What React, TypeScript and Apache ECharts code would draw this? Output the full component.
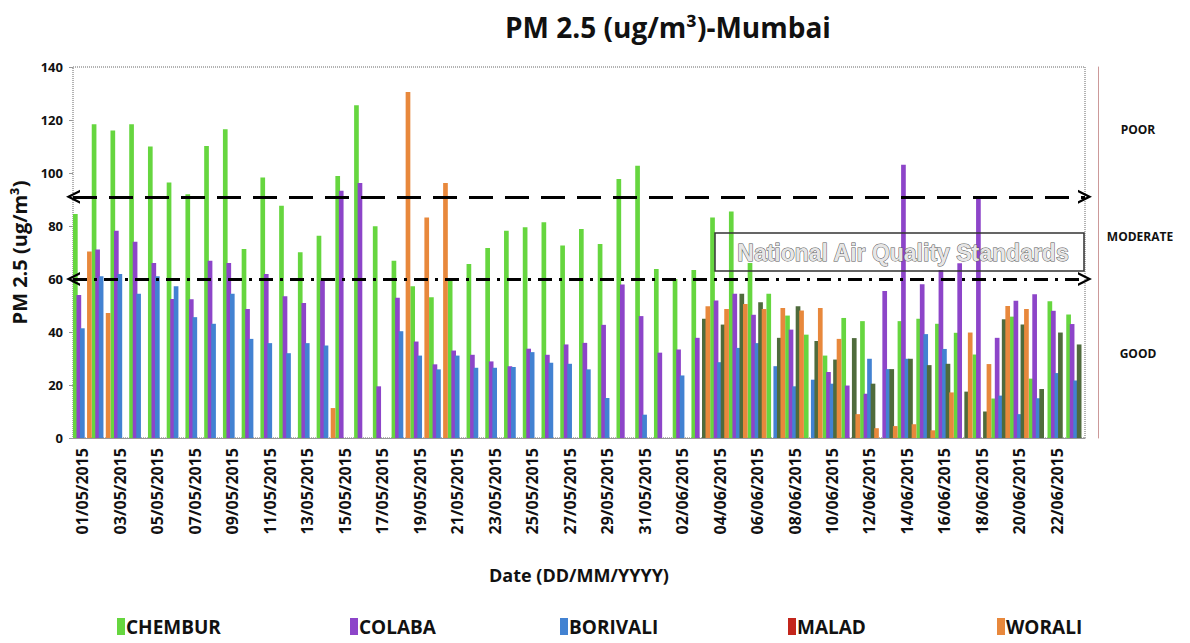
import React, { useEffect, useRef } from "react";
import * as echarts from "echarts";

const dates = [
  "01/05/2015","02/05/2015","03/05/2015","04/05/2015","05/05/2015","06/05/2015","07/05/2015","08/05/2015","09/05/2015","10/05/2015",
  "11/05/2015","12/05/2015","13/05/2015","14/05/2015","15/05/2015","16/05/2015","17/05/2015","18/05/2015","19/05/2015","20/05/2015",
  "21/05/2015","22/05/2015","23/05/2015","24/05/2015","25/05/2015","26/05/2015","27/05/2015","28/05/2015","29/05/2015","30/05/2015",
  "31/05/2015","01/06/2015","02/06/2015","03/06/2015","04/06/2015","05/06/2015","06/06/2015","07/06/2015","08/06/2015","09/06/2015",
  "10/06/2015","11/06/2015","12/06/2015","13/06/2015","14/06/2015","15/06/2015","16/06/2015","17/06/2015","18/06/2015","19/06/2015",
  "20/06/2015","21/06/2015","22/06/2015","23/06/2015",
];

const chembur = [84.5,118.4,116,118.4,110,96.4,92,110.2,116.5,71.3,98.3,87.6,70.1,76.3,98.9,125.6,79.9,66.9,57.3,53.1,60,65.7,71.7,78.2,79.5,81.4,72.6,78.9,73.2,97.7,102.7,63.8,60,63.4,83.2,85.5,66,54.4,46.2,39,31.1,45.3,44.1,null,44.1,45,43.1,39.7,31.5,14.9,45.8,22.4,51.6,46.6];
const colaba = [54,71.1,78.2,74.1,66,52.5,52.4,66.9,66,48.7,61.9,53.5,50.9,59.4,93.3,96.2,19.5,52.9,36.4,27.8,33,31.4,28.9,27.1,33.7,31.4,35.3,35.9,42.7,57.9,46,32.2,33.4,37.8,51.9,54.4,46.5,null,40.9,null,24.9,19.8,16.7,55.5,103.1,58,63.4,65.9,91,37.8,51.8,54.2,48,43];
const borivali = [41.4,61,61.9,54.4,61,57.3,45.6,43.1,54.4,37.4,35.8,32,35.8,34.9,null,null,null,40.3,31.1,25.9,31.1,26.5,26.5,26.8,32.4,28.4,28,25.9,15.1,null,8.8,null,23.6,null,28.6,34,35.8,27.1,19.5,22,20.5,null,29.9,26,29.9,39.2,33.6,null,null,16,9,15,24.5,21.7];
const malad = [null,null,null,null,null,null,null,null,null,null,null,null,null,null,null,null,null,null,null,null,null,null,null,null,null,null,null,null,null,null,null,null,null,45,42.8,54.4,51.2,37.8,49.7,36.6,29.6,37.7,20.5,26,29.9,27.5,28,17.5,10,44.8,42.8,18.5,39.8,35.3];
const worali = [70.4,47.2,null,null,null,null,null,null,null,null,null,null,null,11.3,null,null,null,130.6,83.2,96.2,null,null,null,null,null,null,null,null,null,null,null,null,null,49.7,48.7,50.6,48.7,49.1,48.1,49.1,37.4,9,3.7,4.5,5.2,2.9,17.2,39.8,27.9,49.8,48.7,null,null,null];

const seriesNames = ["CHEMBUR", "COLABA", "BORIVALI", "MALAD", "WORALI"];
const barColors = ["#66d63f", "#8d45c9", "#4282d2", "#4f6b3c", "#e8883c"];
const legendColors = ["#66d63f", "#8d45c9", "#4282d2", "#c3261c", "#e8883c"];
const legendLefts = [112, 345, 555, 783, 992];

const poorLimit = 91;
const goodLimit = 60;

const FONT = '"Open Sans", "Liberation Sans", sans-serif';

export default function App() {
  const ref = useRef<HTMLDivElement>(null);
  useEffect(() => {
    if (!ref.current) return;
    const chart = echarts.init(ref.current, undefined, { renderer: "svg" });
    const values = [chembur, colaba, borivali, malad, worali];
    const chevron = "path://M0,10 L5,0 L10,10 L8.2,10 L5,3.6 L1.8,10 Z";
    const series: any[] = values.map((d, i) => ({
      name: seriesNames[i],
      type: "bar",
      data: d,
      barCategoryGap: "0%",
      barGap: "-25%",
      itemStyle: { color: barColors[i] },
    }));
    series[0].markLine = {
      silent: true,
      symbol: [chevron, chevron],
      symbolSize: [14, 14],
      label: { show: false },
      data: [
        { yAxis: poorLimit, lineStyle: { color: "#000", width: 3, type: [24, 12] } },
        { yAxis: goodLimit, lineStyle: { color: "#000", width: 3, type: [14, 7, 3, 7] } },
      ],
    };
    chart.setOption({
      animation: false,
      backgroundColor: "#fff",
      title: {
        text: "PM 2.5 (ug/m³)-Mumbai",
        left: 500,
        top: 8,
        textStyle: { fontFamily: FONT, fontSize: 28, fontWeight: "bold", color: "#111" },
      },
      legend: seriesNames.map((n, i) => ({
        data: [{ name: n, itemStyle: { color: legendColors[i] } }],
        left: legendLefts[i],
        top: 612,
        itemWidth: 8,
        itemHeight: 17,
        itemGap: 2,
        icon: "rect",
        textStyle: { fontFamily: FONT, fontSize: 19, fontWeight: "bold", color: "#111", padding: [0, 0, 0, -4] },
      })),
      grid: {
        left: 73,
        right: 105,
        top: 67,
        bottom: 205,
        show: true,
        borderColor: "#666",
        borderWidth: 1,
        borderType: "dotted",
      },
      xAxis: {
        type: "category",
        data: dates,
        boundaryGap: true,
        name: "Date (DD/MM/YYYY)",
        nameLocation: "middle",
        nameGap: 128,
        nameTextStyle: { fontFamily: FONT, fontSize: 18, fontWeight: "bold", color: "#111" },
        axisLine: { lineStyle: { color: "#999" } },
        axisTick: { interval: 1, length: 4, lineStyle: { color: "#999" } },
        axisLabel: {
          interval: 1,
          rotate: 90,
          margin: 10,
          fontFamily: FONT,
          fontSize: 16,
          fontWeight: "bold",
          color: "#111",
        },
      },
      yAxis: [
        {
          type: "value",
          min: 0,
          max: 140,
          interval: 20,
          name: "PM 2.5 (ug/m³)",
          nameLocation: "middle",
          nameGap: 44,
          nameRotate: 90,
          nameTextStyle: { fontFamily: FONT, fontSize: 20, fontWeight: "bold", color: "#111" },
          axisLine: { show: false },
          axisTick: { show: true, length: 4, lineStyle: { color: "#999" } },
          splitLine: { show: false },
          axisLabel: { fontFamily: FONT, fontSize: 13, fontWeight: "bold", color: "#111", margin: 10 },
        },
        {
          type: "value",
          min: 0,
          max: 140,
          position: "right",
          offset: 13,
          axisLine: { show: true, lineStyle: { color: "#c99", width: 1 } },
          axisTick: { show: false },
          axisLabel: { show: false },
          splitLine: { show: false },
        },
      ],
      graphic: [
        {
          type: "rect",
          shape: { x: 715, y: 233, width: 369, height: 38 },
          style: { fill: "rgba(255,255,255,0)", stroke: "#333", lineWidth: 1.5 },
          z: 10,
        },
        {
          type: "text",
          x: 903,
          y: 253,
          style: {
            text: "National Air Quality Standards",
            fontFamily: '"Liberation Sans", Arial, sans-serif',
            fontSize: 23,
            fontWeight: "bold",
            fill: "#e6e6e6",
            stroke: "#555",
            lineWidth: 1,
            align: "center",
            verticalAlign: "middle",
          },
          z: 11,
        },
        {
          type: "text",
          x: 1138,
          y: 129,
          style: { text: "POOR", fontFamily: FONT, fontSize: 12, fontWeight: "bold", fill: "#111", align: "center", verticalAlign: "middle" },
        },
        {
          type: "text",
          x: 1140,
          y: 236,
          style: { text: "MODERATE", fontFamily: FONT, fontSize: 12, fontWeight: "bold", fill: "#111", align: "center", verticalAlign: "middle" },
        },
        {
          type: "text",
          x: 1138,
          y: 353,
          style: { text: "GOOD", fontFamily: FONT, fontSize: 12, fontWeight: "bold", fill: "#111", align: "center", verticalAlign: "middle" },
        },
      ],
      series,
    });
    return () => chart.dispose();
  }, []);
  return (
    <div
      ref={ref}
      style={{ position: "fixed", left: 0, top: 0, width: 1190, height: 643, background: "#fff" }}
    />
  );
}
